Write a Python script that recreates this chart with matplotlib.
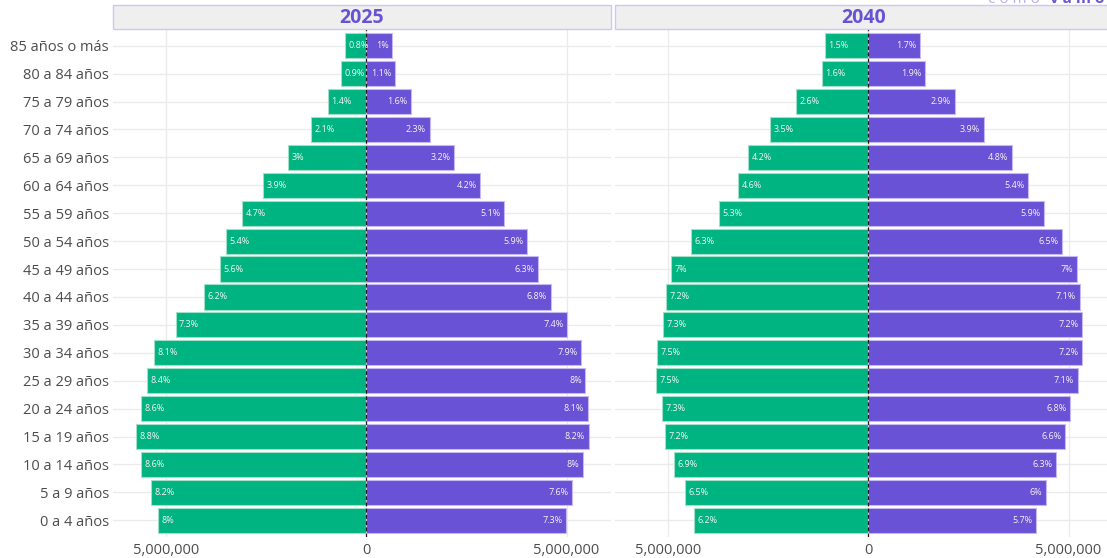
import matplotlib
matplotlib.use("Agg")
import matplotlib.pyplot as plt
from matplotlib.patches import Rectangle
from matplotlib.ticker import FixedLocator, FuncFormatter

plt.rcParams['font.family'] = ['Open Sans', 'DejaVu Sans']

# ---------------- data (bottom to top) ----------------
edades = ["0 a 4 años", "5 a 9 años", "10 a 14 años", "15 a 19 años", "20 a 24 años",
          "25 a 29 años", "30 a 34 años", "35 a 39 años", "40 a 44 años", "45 a 49 años",
          "50 a 54 años", "55 a 59 años", "60 a 64 años", "65 a 69 años", "70 a 74 años",
          "75 a 79 años", "80 a 84 años", "85 años o más"]
anios = ["2025", "2040"]

# population (millions)
hombres_2025 = [5.19, 5.36, 5.63, 5.75, 5.62, 5.47, 5.30, 4.76, 4.06, 3.64, 3.51, 3.09,
                2.57, 1.96, 1.38, 0.95, 0.62, 0.53]
mujeres_2025 = [4.99, 5.14, 5.41, 5.55, 5.53, 5.47, 5.37, 5.02, 4.60, 4.29, 4.02, 3.45,
                2.85, 2.20, 1.58, 1.11, 0.73, 0.65]
hombres_2040 = [4.35, 4.58, 4.84, 5.08, 5.15, 5.29, 5.28, 5.13, 5.04, 4.93, 4.42, 3.72,
                3.24, 2.99, 2.44, 1.80, 1.15, 1.08]
mujeres_2040 = [4.19, 4.43, 4.68, 4.91, 5.04, 5.23, 5.34, 5.33, 5.28, 5.20, 4.83, 4.38,
                3.98, 3.58, 2.88, 2.16, 1.41, 1.30]

# percentage labels
pct_h_2025 = [8, 8.2, 8.6, 8.8, 8.6, 8.4, 8.1, 7.3, 6.2, 5.6, 5.4, 4.7, 3.9, 3, 2.1, 1.4, 0.9, 0.8]
pct_m_2025 = [7.3, 7.6, 8, 8.2, 8.1, 8, 7.9, 7.4, 6.8, 6.3, 5.9, 5.1, 4.2, 3.2, 2.3, 1.6, 1.1, 1]
pct_h_2040 = [6.2, 6.5, 6.9, 7.2, 7.3, 7.5, 7.5, 7.3, 7.2, 7, 6.3, 5.3, 4.6, 4.2, 3.5, 2.6, 1.6, 1.5]
pct_m_2040 = [5.7, 6, 6.3, 6.6, 6.8, 7.1, 7.2, 7.2, 7.1, 7, 6.5, 5.9, 5.4, 4.8, 3.9, 2.9, 1.9, 1.7]

x_ticks = [-5_000_000, 0, 5_000_000]

# ---------------- style ----------------
VERDE = "#00B482"
VERDE_BORDE = "#9fe0c7"
MORADO = "#6952D6"
MORADO_BORDE = "#c4b9f1"
GRID = "#ebebeb"
TXT = "#4d4d4d"

W, H = 1107, 558
fig = plt.figure(figsize=(W / 100, H / 100), dpi=100)
fig.patch.set_facecolor("white")

panel_top = 29
panel_bot = 537
strip_top = 5
panels = [(113, 611), (615, 1113)]
xlim = (-6.32e6, 6.11e6)

datos = [
    (hombres_2025, mujeres_2025, pct_h_2025, pct_m_2025),
    (hombres_2040, mujeres_2040, pct_h_2040, pct_m_2040),
]

ypos = list(range(len(edades)))

for i, ((x0, x1), anio, (h, m, ph, pm)) in enumerate(zip(panels, anios, datos)):
    ax = fig.add_axes([x0 / W, 1 - panel_bot / H, (x1 - x0) / W, (panel_bot - panel_top) / H])
    ax.set_facecolor("white")
    hv = [-v * 1e6 for v in h]
    mv = [v * 1e6 for v in m]
    ax.barh(ypos, hv, height=0.9, color=VERDE, edgecolor=VERDE_BORDE, linewidth=0.8, zorder=2)
    ax.barh(ypos, mv, height=0.9, color=MORADO, edgecolor=MORADO_BORDE, linewidth=0.8, zorder=2)
    ax.axvline(0, color="#1a1a1a", lw=0.9, ls=(0, (3, 2)), zorder=3)
    for y, v, p in zip(ypos, hv, ph):
        ax.annotate(f"{p:g}%", xy=(v, y), xytext=(2.5, 0), textcoords="offset points",
                    ha="left", va="center", color="#f4f4f4", fontsize=6.5, zorder=4)
    for y, v, p in zip(ypos, mv, pm):
        ax.annotate(f"{p:g}%", xy=(v, y), xytext=(-2.5, 0), textcoords="offset points",
                    ha="right", va="center", color="#f4f4f4", fontsize=6.5, zorder=4)
    ax.set_xlim(*xlim)
    ax.set_ylim(-0.6, len(edades) - 0.4)
    ax.xaxis.set_major_locator(FixedLocator(x_ticks))
    ax.xaxis.set_major_formatter(FuncFormatter(lambda v, pos: f"{abs(v):,.0f}"))
    ax.set_yticks(ypos)
    if i == 0:
        ax.set_yticklabels(edades)
    else:
        ax.set_yticklabels([])
    ax.tick_params(axis="both", length=0, labelsize=10.5, colors=TXT, pad=4)
    ax.tick_params(axis="y", pad=3)
    ax.grid(True, color=GRID, lw=1, zorder=0)
    ax.set_axisbelow(True)
    for s in ax.spines.values():
        s.set_visible(False)

    # strip
    strip = Rectangle((x0 / W, 1 - panel_top / H), (x1 - x0) / W, (panel_top - strip_top) / H,
                      transform=fig.transFigure, facecolor="#efefef", edgecolor="#cfc7f1",
                      lw=1, zorder=5)
    fig.patches.append(strip)
    fig.text((x0 + x1) / 2 / W, 1 - (panel_top + strip_top) / 2 / H - 0.002, anio, ha="center",
             va="center", fontsize=14, fontweight="bold", color=MORADO, zorder=6)

# logo (cut off at top of image, as in the reference)
fig.text(1040 / W, 1 - 3 / H, "c o m o", ha="right", va="baseline", fontsize=11,
         color="#b9aeea", zorder=6)
fig.text(1050 / W, 1 - 3 / H, "v a m o s", ha="left", va="baseline", fontsize=11,
         fontweight="bold", color=MORADO, zorder=6)

fig.savefig("out.png", dpi=100, facecolor="white")
